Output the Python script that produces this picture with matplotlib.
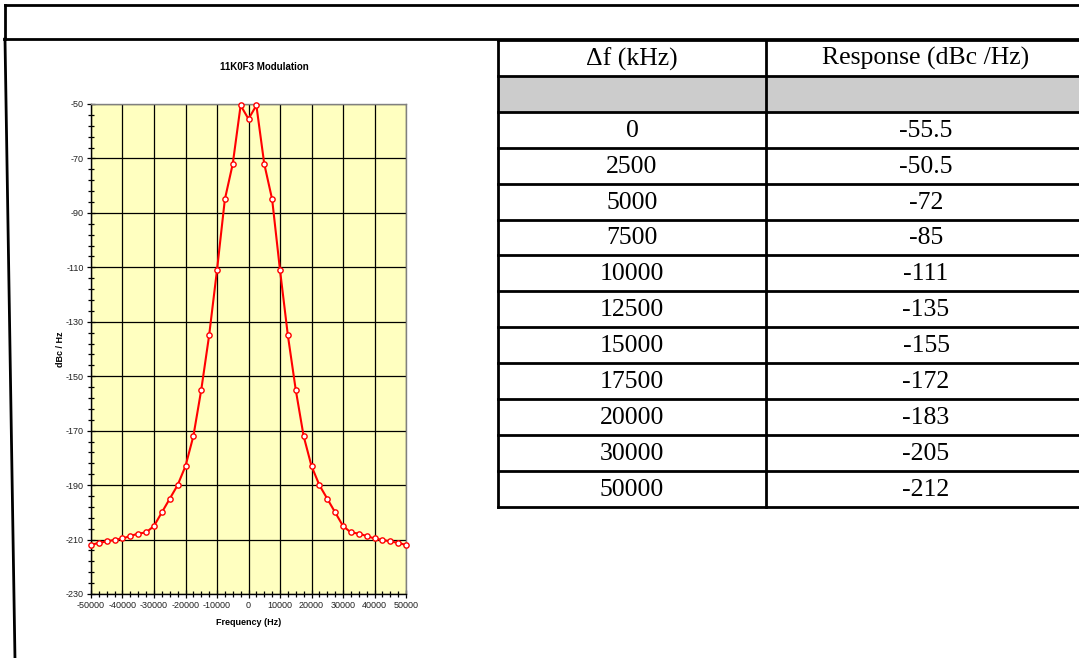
import matplotlib
matplotlib.use("Agg")
import matplotlib.pyplot as plt
from matplotlib.ticker import MultipleLocator

plt.rcParams["axes.unicode_minus"] = False

# two-sided spectrum of the 11K0F3 emission
freq_hz = [-50000, -47500, -45000, -42500, -40000, -37500, -35000, -32500,
           -30000, -27500, -25000, -22500, -20000, -17500, -15000, -12500,
           -10000, -7500, -5000, -2500, 0, 2500, 5000, 7500, 10000, 12500,
           15000, 17500, 20000, 22500, 25000, 27500, 30000, 32500, 35000,
           37500, 40000, 42500, 45000, 47500, 50000]
level_dbc = [-212, -211.2, -210.7, -210.1, -209.6, -208.7, -207.8, -207.4,
             -205, -200, -195, -190, -183, -172, -155, -135,
             -111, -85, -72, -50.5, -55.5, -50.5, -72, -85, -111, -135,
             -155, -172, -183, -190, -195, -200, -205, -207.4, -207.8,
             -208.7, -209.6, -210.1, -210.7, -211.2, -212]

# mask table
table_head = ["\u0394f (kHz)", "Response (dBc /Hz)"]
table_df = ["0", "2500", "5000", "7500", "10000", "12500", "15000",
            "17500", "20000", "30000", "50000"]
table_resp = ["-55.5", "-50.5", "-72", "-85", "-111", "-135", "-155",
              "-172", "-183", "-205", "-212"]

W, H = 1079, 658
fig = plt.figure(figsize=(W / 100, H / 100), dpi=100)
fig.patch.set_facecolor("white")

# page layer in pixel coordinates (y down)
bg = fig.add_axes([0, 0, 1, 1])
bg.set_xlim(0, W)
bg.set_ylim(H, 0)
bg.axis("off")

lw = 2.0
# header box and left frame
bg.plot([5, W + 5], [4.5, 4.5], color="black", lw=lw)
bg.plot([5, 5], [4.5, 39], color="black", lw=lw)
bg.plot([4, W + 5], [39, 39], color="black", lw=lw)
bg.plot([5, 15], [39, 660], color="black", lw=lw)

# table
tx0, tx1, tx2 = 498, 766, 1086
ty0, row_h = 40, 35.9
n_rows = 2 + len(table_df)
bg.fill_between([tx0, tx2], ty0 + row_h, ty0 + 2 * row_h, color="#cccccc", lw=0)
for i in range(n_rows + 1):
    y = ty0 + i * row_h
    bg.plot([tx0, tx2], [y, y], color="black", lw=lw)
for x in (tx0, tx1, tx2):
    bg.plot([x, x], [ty0, ty0 + n_rows * row_h], color="black", lw=lw)

cx1, cx2 = (tx0 + tx1) / 2, (tx1 + tx2) / 2
tfont = dict(family="Liberation Serif", fontsize=18.5, ha="center", va="center")
bg.text(cx1, ty0 + row_h / 2 + 1, table_head[0], **tfont)
bg.text(cx2, ty0 + row_h / 2 + 1, table_head[1], **tfont)
for i, (d, r) in enumerate(zip(table_df, table_resp)):
    y = ty0 + (i + 2.5) * row_h + 1
    bg.text(cx1, y, d, **tfont)
    bg.text(cx2, y, r, **tfont)

# chart
ax_l, ax_r, ax_t, ax_b = 91, 406, 104, 594
ax = fig.add_axes([ax_l / W, 1 - ax_b / H, (ax_r - ax_l) / W, (ax_b - ax_t) / H])
ax.set_facecolor("#ffffc0")
ax.plot(freq_hz, level_dbc, color="#ff0000", lw=1.5, marker="o", ms=3.8,
        mfc="white", mec="#ff0000", mew=1.0, zorder=3, clip_on=False)
ax.set_xlim(-50000, 50000)
ax.set_ylim(-230, -50)
ax.xaxis.set_major_locator(MultipleLocator(10000))
ax.xaxis.set_minor_locator(MultipleLocator(2500))
ax.yaxis.set_major_locator(MultipleLocator(20, offset=10))
ax.yaxis.set_minor_locator(MultipleLocator(4, offset=2))
ax.grid(True, which="major", color="black", lw=0.9)
ax.set_axisbelow(True)

for s in ("top", "right"):
    ax.spines[s].set_color("#808080")
for s in ("left", "bottom"):
    ax.spines[s].set_color("black")
for s in ax.spines.values():
    s.set_linewidth(1.0)

ax.tick_params(which="major", direction="inout", length=6, width=0.9,
               labelsize=6.5, pad=2)
ax.tick_params(which="minor", direction="inout", length=4, width=0.9)
for lab in ax.get_xticklabels() + ax.get_yticklabels():
    lab.set_family("Liberation Sans")
    lab.set_color("#222222")

ax.set_xlabel("Frequency (Hz)", family="Liberation Sans", fontsize=6.5,
              fontweight="bold", labelpad=5.5)
ax.set_ylabel("dBc / Hz", family="Liberation Sans", fontsize=6.5,
              fontweight="bold", labelpad=1)
fig.text(264 / W, 1 - 67 / H, "11K0F3 Modulation", family="Liberation Sans",
         fontsize=7, fontweight="bold", ha="center", va="center")

fig.savefig("out.png", dpi=100, facecolor="white")
